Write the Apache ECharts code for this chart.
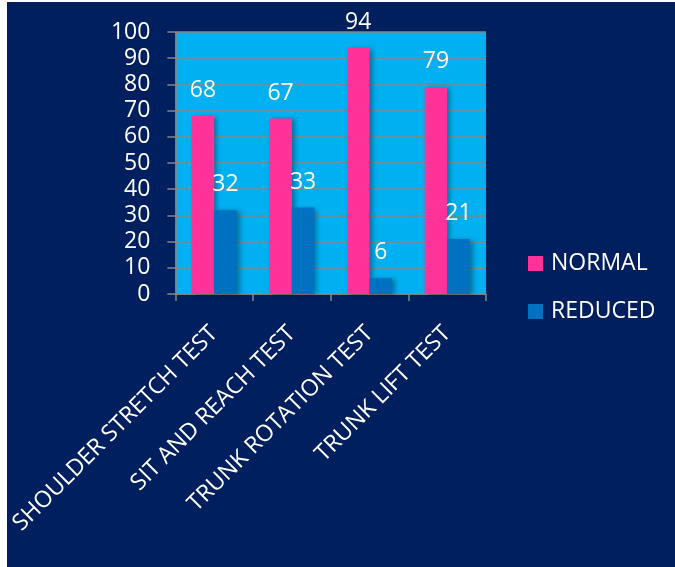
<!DOCTYPE html>
<html>
<head>
<meta charset="utf-8">
<script src="https://cdn.jsdelivr.net/npm/echarts@6/dist/echarts.min.js"></script>
<style>
  html, body { margin: 0; padding: 0; background: #ffffff; width: 675px; height: 567px; overflow: hidden; }
  #chart { position: absolute; left: 7px; top: 2px; width: 668px; height: 565px; }
</style>
</head>
<body>
<div id="chart"></div>
<script>
// Flexibility test results (percent of subjects)
const categories = ['SHOULDER STRETCH TEST', 'SIT AND REACH TEST', 'TRUNK ROTATION TEST', 'TRUNK LIFT TEST'];
const normalValues = [68, 67, 94, 79];
const reducedValues = [32, 33, 6, 21];
const seriesNames = ['NORMAL', 'REDUCED'];

const FONT = "'Open Sans', 'Noto Sans', sans-serif";
const GRID_COLOR = '#868686';

const chart = echarts.init(document.getElementById('chart'), null, { renderer: 'canvas' });

const barShadow = {
  shadowColor: 'rgba(0, 0, 0, 0.35)',
  shadowBlur: 5,
  shadowOffsetX: 3,
  shadowOffsetY: 1
};

const valueLabel = {
  show: true,
  position: 'top',
  distance: 14,
  color: '#ffffff',
  fontFamily: FONT,
  fontSize: 23
};

chart.setOption({
  backgroundColor: '#001F5F',
  animation: false,
  grid: {
    left: 166,
    top: 30,
    width: 313,
    height: 262,
    show: true,
    backgroundColor: '#00B0F0',
    borderWidth: 0
  },
  legend: {
    orient: 'vertical',
    left: 516,
    top: 245,
    itemWidth: 15,
    itemHeight: 15,
    itemGap: 25,
    icon: 'rect',
    textStyle: {
      color: '#ffffff',
      fontFamily: FONT,
      fontSize: 23,
      lineHeight: 23,
      padding: [0, 0, 0, 3]
    },
    data: seriesNames
  },
  xAxis: {
    type: 'category',
    data: categories,
    axisLine: { show: true, lineStyle: { color: GRID_COLOR, width: 1.5 } },
    axisTick: { show: true, length: 7, lineStyle: { color: GRID_COLOR, width: 1.5 } },
    axisLabel: {
      rotate: 45,
      margin: 36,
      color: '#ffffff',
      fontFamily: FONT,
      fontSize: 23,
      interval: 0
    }
  },
  yAxis: {
    type: 'value',
    min: 0,
    max: 100,
    interval: 10,
    axisLine: { show: true, lineStyle: { color: GRID_COLOR, width: 1.5 } },
    axisTick: { show: true, length: 8, lineStyle: { color: GRID_COLOR, width: 1.5 } },
    splitLine: { show: true, lineStyle: { color: GRID_COLOR, width: 1.5 } },
    axisLabel: {
      margin: 25,
      color: '#ffffff',
      fontFamily: FONT,
      fontSize: 23
    }
  },
  series: [
    {
      name: seriesNames[0],
      type: 'bar',
      data: normalValues,
      barGap: '0%',
      barCategoryGap: '42%',
      itemStyle: Object.assign({ color: '#FF3399' }, barShadow),
      label: valueLabel
    },
    {
      name: seriesNames[1],
      type: 'bar',
      data: reducedValues,
      barGap: '0%',
      barCategoryGap: '42%',
      itemStyle: Object.assign({ color: '#0070C0' }, barShadow),
      label: valueLabel
    }
  ]
});
</script>
</body>
</html>
